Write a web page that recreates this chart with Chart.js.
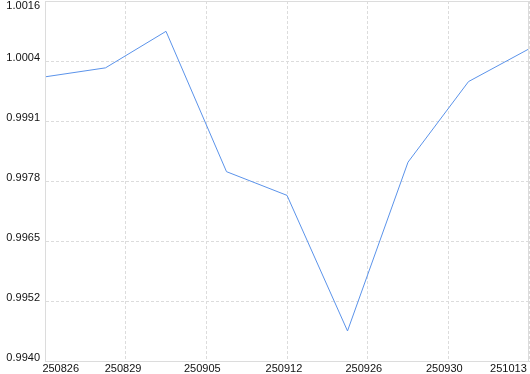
<!DOCTYPE html>
<html>
<head>
<meta charset="utf-8">
<script src="https://cdn.jsdelivr.net/npm/chart.js@4"></script>
<style>
  html, body { margin: 0; padding: 0; background: #fff; }
  #wrap { width: 530px; height: 374px; }
</style>
</head>
<body>
<div id="wrap"><canvas id="myChart"></canvas></div>
<script>
// series, one value per sample (x = sample index)
const values = [1.0000, 1.00019, 1.00096, 0.99800, 0.99750, 0.99464, 0.99820, 0.99990, 1.00059];
// tick labels
const xLabels = ['250826', '250829', '250905', '250912', '250926', '250930', '251013'];
const yLabels = ['0.9940', '0.9952', '0.9965', '0.9978', '0.9991', '1.0004', '1.0016'];
const yMin = 0.9940;
const yMax = 1.0016;

const lastX = values.length - 1;
const gridStep = lastX / (xLabels.length - 1);
const yStep = (yMax - yMin) / (yLabels.length - 1);
// where the date labels sit (index units), the edge ones pushed inside the plot
const labelPos = [0.26, 1.29, 2.60, 3.95, 5.27, 6.60, 7.66];
// the value labels sit a few pixels above their line, the top one is kept inside
const yPx = (yMax - yMin) / 360;
const yLabelPos = yLabels.map((_, i) => yMin + i * yStep + (i === yLabels.length - 1 ? -5 : 3.4) * yPx);

const FONT = { family: 'Liberation Sans', size: 11 };

const frame = {
  id: 'frame',
  afterDraw(chart) {
    const a = chart.chartArea;
    const c = chart.ctx;
    c.save();
    c.strokeStyle = '#dcdcdc';
    c.lineWidth = 1;
    c.strokeRect(Math.round(a.left) + 0.5, Math.round(a.top) + 0.5,
      Math.round(a.right - a.left) - 1, Math.round(a.bottom - a.top));
    c.restore();
  }
};

const ctx = document.getElementById('myChart');
new Chart(ctx, {
  type: 'line',
  data: {
    datasets: [{
      data: values.map((v, i) => ({ x: i, y: v })),
      borderColor: '#5b93ea',
      borderWidth: 1,
      pointRadius: 0,
      tension: 0
    }]
  },
  options: {
    responsive: true,
    maintainAspectRatio: false,
    animation: false,
    layout: { padding: { top: 1, right: 1, left: 0, bottom: 0 } },
    plugins: { legend: { display: false }, tooltip: { enabled: false } },
    scales: {
      x: {
        type: 'linear',
        min: 0,
        max: lastX,
        afterBuildTicks(scale) {
          scale.ticks = xLabels.map((_, i) => ({ value: i * gridStep }));
        },
        afterFit(scale) { scale.height = 0; },
        ticks: { display: false },
        grid: { color: '#dcdcdc', drawTicks: false },
        border: { color: '#d4d4d4', dash: [3, 2] }
      },
      x2: {
        type: 'linear',
        position: 'bottom',
        min: 0,
        max: lastX,
        afterBuildTicks(scale) {
          scale.ticks = labelPos.map(p => ({ value: p }));
        },
        afterFit(scale) {
          scale.height = 12.7;
          scale.paddingLeft = 0;
          scale.paddingRight = 0;
        },
        ticks: {
          autoSkip: false,
          maxRotation: 0,
          padding: 1,
          color: '#111',
          font: FONT,
          callback: (v, i) => xLabels[i]
        },
        grid: { display: false, drawTicks: false },
        border: { display: false }
      },
      y: {
        min: yMin,
        max: yMax,
        afterBuildTicks(scale) {
          scale.ticks = yLabels.map((_, i) => ({ value: yMin + i * yStep }));
        },
        afterFit(scale) {
          scale.width = 0;
          scale.paddingTop = 0;
          scale.paddingBottom = 0;
        },
        ticks: { display: false },
        grid: { color: '#dcdcdc', drawTicks: false },
        border: { color: '#d4d4d4', dash: [3, 2] }
      },
      y2: {
        position: 'left',
        min: yMin,
        max: yMax,
        afterBuildTicks(scale) {
          scale.ticks = yLabelPos.map(p => ({ value: p }));
        },
        afterFit(scale) {
          scale.width = 45;
          scale.paddingTop = 0;
          scale.paddingBottom = 0;
        },
        ticks: {
          autoSkip: false,
          padding: 5,
          color: '#111',
          font: FONT,
          callback: (v, i) => yLabels[i]
        },
        grid: { display: false, drawTicks: false },
        border: { display: false }
      }
    }
  },
  plugins: [frame]
});
</script>
</body>
</html>
